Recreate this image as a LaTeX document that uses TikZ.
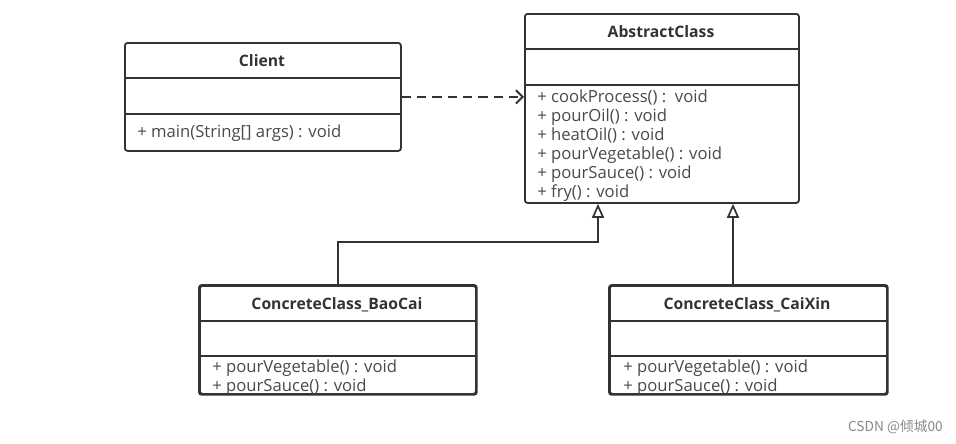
\documentclass[tikz,border=0pt]{standalone}
\usepackage{fontspec}
\setmainfont{Open Sans}
\newfontfamily\cjk{Noto Sans CJK SC}
\usetikzlibrary{arrows.meta}
\definecolor{umlline}{HTML}{333333}
\definecolor{umltext}{HTML}{4A4A4A}
\definecolor{umltitle}{HTML}{333333}
\definecolor{wmark}{HTML}{8A8A8A}
\begin{document}
\begin{tikzpicture}[x=0.75pt,y=-0.75pt,
  classbox/.style={draw=umlline,line width=1.8pt*0.75,rounded corners=2pt,minimum width=#1*0.75pt,inner sep=0pt,anchor=north west},
  divider/.style={draw=umlline,line width=1.3pt},
  title/.style={font=\bfseries\fontsize{11.8}{13}\selectfont,text=umltitle,inner sep=0pt,anchor=base},
  meth/.style={font=\fontsize{12.5}{14}\selectfont,text=umltext,inner sep=0pt,anchor=base west},
  conn/.style={draw=umlline,line width=1.7pt*0.75},
  inherit/.style={conn,-{Triangle[open,length=10.5pt,width=9pt]}},
  depend/.style={conn,line width=2pt*0.75,dash pattern=on 7pt off 4.5pt,-{Straight Barb[length=5pt,width=10pt]}}
]
\useasboundingbox (0,0) rectangle (956,443);
\fill[white] (0,0) rectangle (956,443);

% Client
\node[classbox=276,minimum height=108*0.75pt] (client) at (124,42) {};
\draw[divider] (124,78) -- (400,78);
\draw[divider] (124,114) -- (400,114);
\node[title] (clientT) at (262,66) {Client};
\node[meth] (clientM1) at (137,137) {+ main(String[] args) : void};

% AbstractClass
\node[classbox=274,minimum height=189*0.75pt] (abs) at (524,13) {};
\draw[divider] (524,49) -- (798,49);
\draw[divider] (524,85) -- (798,85);
\node[title] (absT) at (661,37) {AbstractClass};
\node[meth] (absM1) at (537,102) {+ cookProcess()\ :\ \ void};
\node[meth] (absM2) at (537,121) {+ pourOil() : void};
\node[meth] (absM3) at (537,140) {+ heatOil() : void};
\node[meth] (absM4) at (537,159) {+ pourVegetable() : void};
\node[meth] (absM5) at (537,178) {+ pourSauce() : void};
\node[meth] (absM6) at (537,197) {+ fry() : void};

% ConcreteClass_BaoCai
\node[classbox=276,minimum height=108*0.75pt] (bao) at (199,285) {};
\draw[divider] (199,321) -- (475,321);
\draw[divider] (199,356) -- (475,356);
\node[title] (baoT) at (337,309) {ConcreteClass\_BaoCai};
\begin{scope}
\clip (199,356) rectangle (475,393);
\node[meth] (baoM1) at (212,372) {+ pourVegetable() : void};
\node[meth] (baoM2) at (212,391) {+ pourSauce() : void};
\end{scope}
\draw[draw=umlline,line width=1.8pt*0.75,rounded corners=2pt] (bao.north west) rectangle (bao.south east);

% ConcreteClass_CaiXin
\node[classbox=277,minimum height=108*0.75pt] (cai) at (609,285) {};
\draw[divider] (609,321) -- (886,321);
\draw[divider] (609,356) -- (886,356);
\node[title] (caiT) at (747,309) {ConcreteClass\_CaiXin};
\begin{scope}
\clip (609,356) rectangle (886,393);
\node[meth] (caiM1) at (623,372) {+ pourVegetable() : void};
\node[meth] (caiM2) at (623,391) {+ pourSauce() : void};
\end{scope}
\draw[draw=umlline,line width=1.8pt*0.75,rounded corners=2pt] (cai.north west) rectangle (cai.south east);

% connectors
\coordinate (j1) at (598,242);
\coordinate (j2) at (733,285);
\draw[depend] (client.east) -- (client.east -| abs.west);
\draw[inherit] (bao.north) |- (j1) -- (j1 |- abs.south);
\draw[inherit] (j2) -- (j2 |- abs.south);

% watermark
\node[font=\cjk\fontsize{10.3}{12}\selectfont,text=wmark,inner sep=0pt,anchor=base east] (wm) at (943,431) {CSDN @倾城00};
\end{tikzpicture}
\end{document}
